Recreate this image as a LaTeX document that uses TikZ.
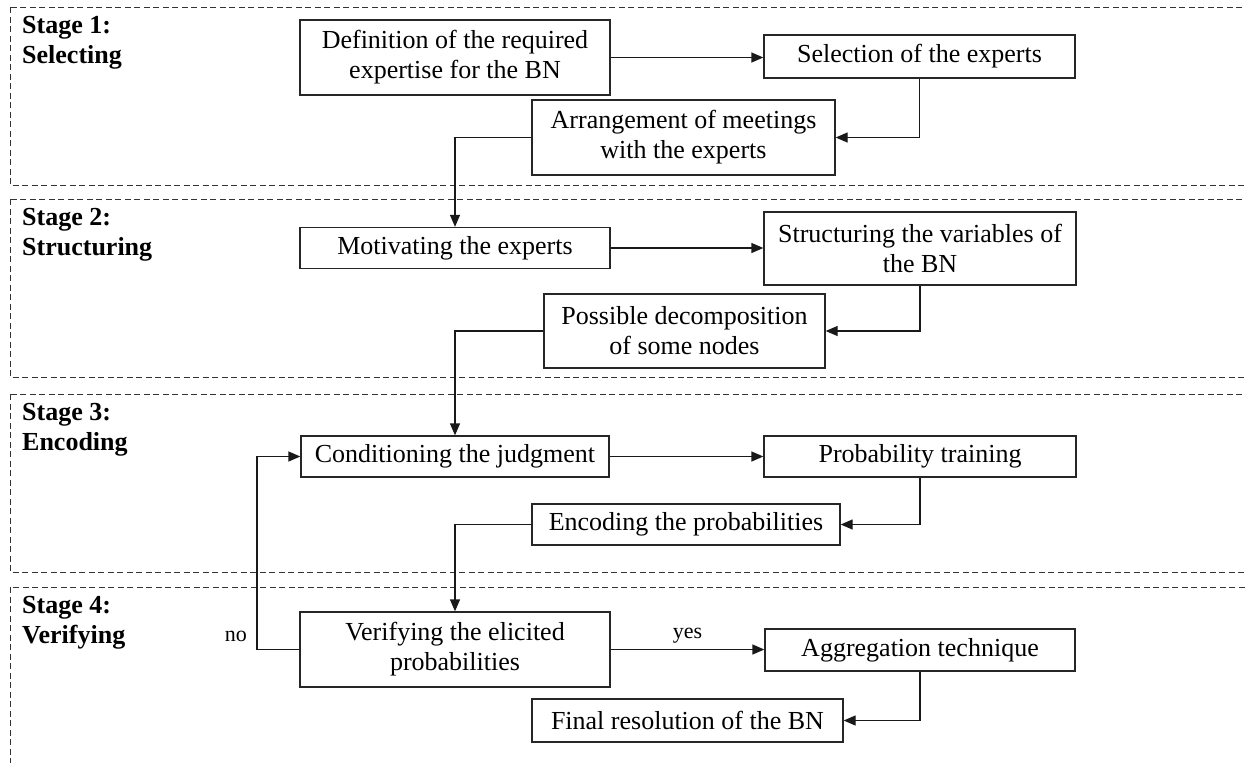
\documentclass[tikz,border=0pt]{standalone}
\usepackage{fontspec}
\setmainfont{Liberation Serif}
\usetikzlibrary{arrows.meta}
\tikzset{
  stagebox/.style={draw=black!80, line width=1pt, dash pattern=on 6pt off 3.5pt},
  procbox/.style={draw=black!85, line width=1.3pt, inner sep=0pt, align=center,
    font=\fontsize{26}{30}\selectfont, text=black},
  stagelabel/.style={anchor=north west, inner sep=0pt, align=left,
    font=\fontsize{26}{30}\selectfont\bfseries, text=black},
  edgelabel/.style={inner sep=0pt, font=\fontsize{22}{26}\selectfont, text=black},
  conn/.style={draw=black!90, line width=1.3pt},
  arr/.style={conn, -{Triangle[length=12pt,width=10pt]}}
}
\begin{document}
\begin{tikzpicture}[x=1pt,y=-1pt]
\useasboundingbox (0,0) rectangle (1245,763);
\clip (0,0) rectangle (1245,763);
% stage frames
\draw[stagebox] (10,7) rectangle (1265,185);
\draw[stagebox] (10,199) rectangle (1265,377);
\draw[stagebox] (10,394) rectangle (1265,572);
\draw[stagebox] (10,587) rectangle (1265,790);
% stage labels
\node[stagelabel] (s1) at (22,16) {Stage 1:\\Selecting};
\node[stagelabel] (s2) at (22,208) {Stage 2:\\Structuring};
\node[stagelabel] (s3) at (22,403) {Stage 3:\\Encoding};
\node[stagelabel] (s4) at (22,596) {Stage 4:\\Verifying};
% process boxes
\node[procbox, minimum width=310pt, minimum height=75pt] (A) at (455,57.5) {Definition of the required\\expertise for the BN};
\node[procbox, minimum width=311pt, minimum height=43pt] (B) at (919.5,56.5) {Selection of the experts};
\node[procbox, minimum width=303pt, minimum height=75pt] (C) at (683.5,137.5) {Arrangement of meetings\\with the experts};
\node[procbox, minimum width=310pt, minimum height=41pt] (D) at (455,248) {Motivating the experts};
\node[procbox, minimum width=312pt, minimum height=73pt] (E) at (920,248.5) {Structuring the variables of\\the BN};
\node[procbox, minimum width=281pt, minimum height=74pt] (F) at (684.5,331) {Possible decomposition\\of some nodes};
\node[procbox, minimum width=308pt, minimum height=41pt] (G) at (455,456.5) {Conditioning the judgment};
\node[procbox, minimum width=312pt, minimum height=41pt] (H) at (920,456.5) {Probability training};
\node[procbox, minimum width=308pt, minimum height=41pt] (I) at (686,524.5) {Encoding the probabilities};
\node[procbox, minimum width=310pt, minimum height=75pt] (J) at (455,649.5) {Verifying the elicited\\probabilities};
\node[procbox, minimum width=310pt, minimum height=42pt] (K) at (920,650) {Aggregation technique};
\node[procbox, minimum width=311pt, minimum height=43pt] (L) at (687.5,720.5) {Final resolution of the BN};
% connectors
\draw[arr] (A.east) -- (A.east -| B.west);
\draw[arr] (B.south) |- (C.east);
\draw[arr] (C.west) -| (D.north);
\draw[arr] (D.east) -- (D.east -| E.west);
\draw[arr] (E.south) |- (F.east);
\draw[arr] (F.west) -| (G.north);
\draw[arr] (G.east) -- (G.east -| H.west);
\draw[arr] (H.south) |- (I.east);
\draw[arr] (I.west) -| (J.north);
\draw[arr] (J.east) -- node[edgelabel, above=6pt] (yes) {yes} (J.east -| K.west);
\draw[arr] (K.south) |- (L.east);
\coordinate (nocorner) at (257,650);
\draw[arr] (J.west) -- (J.west -| nocorner) |- (G.west);
\node[edgelabel, anchor=east] (no) at (247,636) {no};
\end{tikzpicture}
\end{document}
